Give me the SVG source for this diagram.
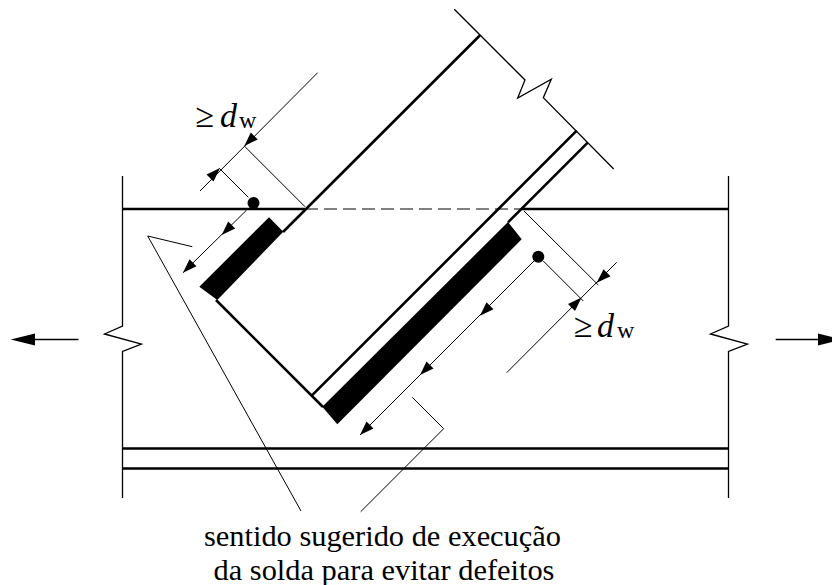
<svg xmlns="http://www.w3.org/2000/svg" width="832" height="585" viewBox="0 0 832 585">
<style>
.t{fill:none;stroke:#000;stroke-width:1}
.b{fill:none;stroke:#000;stroke-width:1.3}
.k{fill:none;stroke:#000;stroke-width:2.6}
.f{fill:#000;stroke:none}
text{font-family:"Liberation Serif","Times New Roman",serif;fill:#000}
.c{font-size:30.400px;text-anchor:middle}
.d{font-size:34px;font-style:italic}
.w{font-size:24px}
.g{font-size:34px}
</style>
<rect width="832" height="585" fill="#fff"/>
<g id="flange">
<path class="k" d="M122 209H305M521 209H729M122 448.500H729M122 468.500H729"/>
<path class="t" d="M305 209H521" stroke-dasharray="13 6"/>
<path class="b" d="M122.500 176V326L104.500 334L141.500 344L122.500 351.500V498"/>
<path class="b" d="M728.500 176V326L710.500 334L747.500 344L728.500 351.500V498"/>
</g>
<g id="brace">
<path class="k" d="M480.300 35L283 232M216 300L323 407M576.700 130.700L311.700 395.700M587.700 142.700L508 222.400"/>
<path class="b" d="M454.300 9.300L525 80L517.700 98L551.300 79.300L543.300 97.700L613.700 169"/>
</g>
<g id="welds">
<polygon class="f" points="269,217.300 283.300,231.700 217.300,300 199.300,286.700"/>
<polygon class="f" points="508,222 521.700,239.300 337.300,424.300 322.300,406.700"/>
</g>
<g id="connectors">
<path class="t" d="M317.700 72.700L200 191M244.300 146L305 206.700M219.300 168.300L248.300 197.300M246.700 210L183 272.700"/>
<path class="t" d="M524 211L598.300 285M543.300 261L583.300 301M616.700 262.300L506.700 372.700M538.300 256.700L360 435"/>
<path class="t" d="M192.300 246.700L147.700 236L301 511M412.300 397.300L443.700 428.700L360.700 511.700"/>
<path class="b" d="M35 339.500H78.500M775.700 339.500H818"/>
<polygon class="f" points="244.300,146 250.800,132.500 257.800,139.500"/>
<polygon class="f" points="220,168 206.500,174.500 213.500,181.500"/>
<polygon class="f" points="221.700,235 228.200,221.500 235.200,228.500"/>
<polygon class="f" points="183,272.700 189.500,259.200 196.500,266.200"/>
<polygon class="f" points="596.700,282.700 603.500,269.200 610.500,276.200"/>
<polygon class="f" points="581.500,297.500 568,304 575,311"/>
<polygon class="f" points="420,375 426.500,361.500 433.500,368.500"/>
<polygon class="f" points="480,315.700 486.500,302.200 493.500,309.200"/>
<polygon class="f" points="360,435 366.500,421.500 373.500,428.500"/>
<polygon class="f" points="10.700,339.500 35,333.500 35,345.500"/>
<polygon class="f" points="842,339.500 818,333.500 818,345.500"/>
<circle class="f" cx="253.500" cy="203" r="6"/>
<circle class="f" cx="538.300" cy="256.700" r="6"/>
</g>
<g id="labels">
<text class="g" x="195.500" y="127">≥</text><text class="d" x="220" y="127">d</text><text class="w" x="239" y="128">w</text>
<text class="g" x="574" y="337">≥</text><text class="d" x="597" y="337">d</text><text class="w" x="617" y="338">w</text>
<text class="c" x="382.500" y="545.500">sentido sugerido de execução</text>
<text class="c" x="384" y="579.500">da solda para evitar defeitos</text>
</g>
</svg>
